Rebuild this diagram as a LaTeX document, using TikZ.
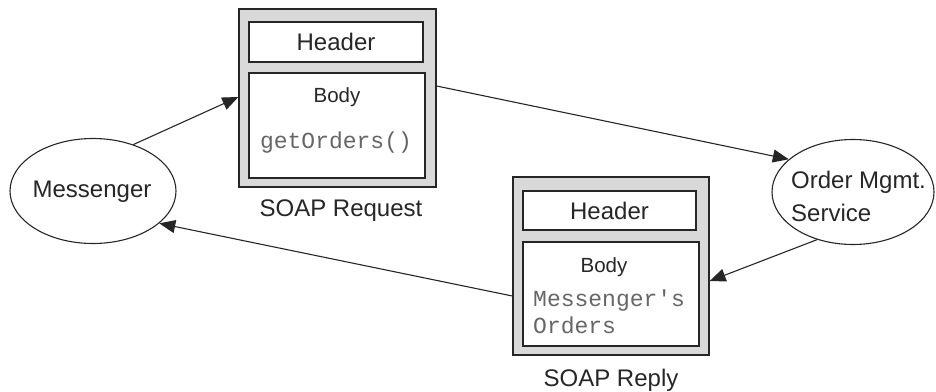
\documentclass[tikz,border=0pt]{standalone}
\usepackage{fontspec}
\setmainfont{Liberation Sans}
\newfontfamily\monof{Liberation Mono}
\usetikzlibrary{arrows.meta,shapes.geometric}
\begin{document}
\begin{tikzpicture}[x=1pt,y=1pt,
  outerbox/.style={draw=black!85,line width=1.3pt,fill=gray!30,minimum width=#1,minimum height=178pt,inner sep=0pt},
  innerbox/.style={draw=black!85,line width=1.2pt,fill=white,inner sep=0pt},
  ell/.style={draw=black!85,line width=1.1pt,ellipse,inner sep=0pt},
  lbl/.style={font=\fontsize{24}{28}\selectfont,text=black!85,inner sep=0pt},
  bodylbl/.style={font=\fontsize{20.5}{24}\selectfont,text=black!85,inner sep=0pt},
  mono/.style={font=\monof\fontsize{23}{27}\selectfont,text=black!60,inner sep=0pt},
  conn/.style={draw=black!85,line width=1.1pt,-{Triangle[length=16pt,width=13pt]}}]
\useasboundingbox (0,0) rectangle (936,-391);
% ellipses
\node[ell,minimum width=166pt,minimum height=105pt] (mess) at (93,-191) {};
\node[lbl] (messt) at (92,-192) {Messenger};
\node[ell,minimum width=162pt,minimum height=105pt] (ord) at (853,-192) {};
\node[lbl,align=left,anchor=west,font=\fontsize{24}{33}\selectfont] (ordt) at (791,-196) {Order Mgmt.\\Service};
% request
\node[outerbox=197pt] (reqout) at (337.5,-98) {};
\node[innerbox,minimum width=174pt,minimum height=40pt] (reqhead) at (336,-42) {};
\node[lbl] (reqheadt) at (336,-42) {Header};
\node[innerbox,minimum width=176pt,minimum height=105pt] (reqbody) at (337,-125.5) {};
\node[bodylbl] (reqbodyt) at (337,-97) {Body};
\node[mono] (reqcall) at (336,-143) {getOrders()};
\node[lbl] (reqlbl) at (341,-211) {SOAP Request};
% reply
\node[outerbox=196pt] (repout) at (611,-266) {};
\node[innerbox,minimum width=173pt,minimum height=39pt] (rephead) at (609.5,-210.5) {};
\node[lbl] (repheadt) at (609.5,-210.5) {Header};
\node[innerbox,minimum width=176pt,minimum height=104pt] (repbody) at (611,-294) {};
\node[bodylbl] (repbodyt) at (604,-267) {Body};
\node[mono,align=left,anchor=west,font=\monof\fontsize{23}{27}\selectfont] (repdata) at (533,-311.5) {Messenger's\\Orders};
\node[lbl] (replbl) at (611,-380) {SOAP Reply};
% connectors
\draw[conn] (mess.49) -- ([yshift=1pt]reqout.west);
\draw[conn] ([yshift=12pt]reqout.east) -- (ord.153);
\draw[conn] (ord.233) -- ([yshift=-15pt]repout.east);
\draw[conn] ([yshift=-30pt]repout.west) -- (mess.-26);
\end{tikzpicture}
\end{document}
